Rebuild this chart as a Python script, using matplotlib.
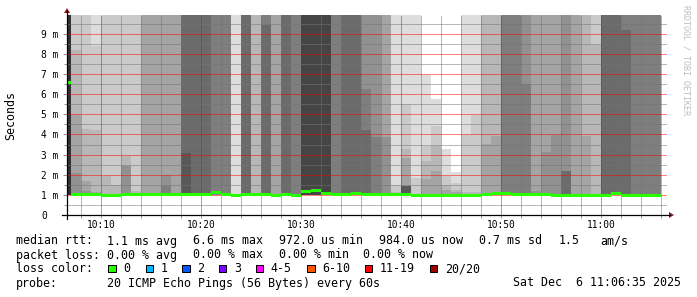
import numpy as np
import matplotlib
matplotlib.use("Agg")
import matplotlib.pyplot as plt
from matplotlib.lines import Line2D
from matplotlib.patches import Polygon, Rectangle
from matplotlib.ticker import MultipleLocator, FuncFormatter

W, H = 697, 297
MONO = "DejaVu Sans Mono"

# rtt values in ms, one step per minute starting 10:06
OFF = 15.0  # ping slower than the top of the graph
first_minute = 6

# the slow pings of each step (the other pings of the 20 sit at rtt_min)
slow_pings = [
    [OFF] * 10,
    [2.08, 4.95, 8.17, OFF, OFF],
    [1.17, 1.7, 4.25, OFF, OFF],
    [1.15, 4.2, 8.4, OFF],
    [1.92, OFF, OFF],
    [1.47, OFF, OFF],
    [2.45, 2.45, 2.95, OFF, OFF],
    [1.2, OFF, OFF],
    [OFF] * 4,
    [OFF] * 4,
    [1.45, 2.0, OFF, OFF, OFF, OFF],
    [OFF] * 4,
    [3.08] + [OFF] * 7,
    [OFF] * 7,
    [OFF] * 7,
    [OFF] * 6,
    [OFF] * 6,
    [OFF],
    [OFF] * 7,
    [OFF] * 3,
    [9.42] + [OFF] * 6,
    [OFF] * 4,
    [OFF] * 7,
    [OFF] * 6,
    [OFF] * 9,
    [OFF] * 9,
    [OFF] * 9,
    [OFF] * 6,
    [OFF] * 7,
    [OFF] * 7,
    [4.2, 6.25] + [OFF] * 5,
    [3.85] + [OFF] * 5,
    [3.87] + [OFF] * 4,
    [1.15, 1.5, OFF],
    [1.42, 1.42, 1.42, 1.42, 2.83, 3.28, 5.53, OFF],
    [1.83, OFF],
    [1.8, 2.7, 3.45, 6.95],
    [2.2, 3.45, 4.42, 5.75],
    [1.25, 1.5, 1.95, 3.3],
    [1.12, 1.25, 1.58, 2.12],
    [1.15, 3.95, OFF],
    [1.15, 4.95, OFF],
    [3.53, OFF, OFF, OFF],
    [3.9, OFF, OFF, OFF],
    [OFF] * 6,
    [OFF] * 6,
    [6.5] + [OFF] * 5,
    [1.2] + [OFF] * 4,
    [3.12] + [OFF] * 4,
    [3.95] + [OFF] * 4,
    [2.2, 2.2] + [OFF] * 5,
    [OFF] * 4,
    [3.92, OFF, OFF, OFF],
    [8.42, OFF, OFF],
    [OFF] * 7,
    [OFF] * 7,
    [9.2] + [OFF] * 6,
    [OFF] * 6,
    [OFF] * 6,
    [OFF] * 6,
]

rtt_median = [
    6.6, 1.03, 1.03, 1.03, 0.97, 0.97, 1.0, 1.0, 1.02, 1.03,
    1.03, 1.03, 1.03, 1.03, 1.03, 1.1, 1.0, 0.98, 1.02, 1.02,
    1.02, 0.97, 1.02, 0.97, 1.15, 1.2, 1.07, 1.04, 1.03, 1.07,
    1.03, 1.03, 1.03, 1.03, 1.03, 0.99, 0.98, 0.98, 0.98, 0.98,
    0.98, 0.98, 1.03, 1.05, 1.08, 1.03, 1.0, 1.0, 1.0, 0.98,
    0.98, 0.98, 0.99, 0.99, 0.99, 1.07, 0.99, 0.99, 0.99, 0.99,
]

rtt_min = [
    0.97, 0.98, 0.98, 0.98, 0.93, 0.93, 0.95, 0.95, 0.97, 0.98,
    0.98, 0.98, 0.98, 0.98, 0.98, 1.0, 0.95, 0.93, 0.97, 0.97,
    0.97, 0.93, 0.97, 0.93, 0.97, 0.97, 0.97, 0.98, 0.98, 1.0,
    0.98, 0.98, 0.98, 0.98, 0.98, 0.94, 0.93, 0.93, 0.93, 0.93,
    0.93, 0.93, 0.98, 0.99, 1.0, 0.98, 0.95, 0.95, 0.95, 0.93,
    0.93, 0.93, 0.94, 0.94, 0.94, 1.0, 0.94, 0.94, 0.94, 0.94,
]

legend_rows = [
    ("median rtt:", ["1.1 ms avg", "6.6 ms max", "972.0 us min", "984.0 us now", "0.7 ms sd", "1.5", "am/s"]),
    ("packet loss:", ["0.00 % avg", "0.00 % max", "0.00 % min", "0.00 % now"]),
]
loss_labels = ["0", "1", "2", "3", "4-5", "6-10", "11-19", "20/20"]
loss_colors = ["#26ff00", "#00b8ff", "#0059ff", "#7e00ff", "#ff00ff", "#ff5500", "#ff0000", "#a10000"]
probe_text = "20 ICMP Echo Pings (56 Bytes) every 60s"
stamp = "Sat Dec  6 11:06:35 2025"


def fx(x):
    return x / W


def fy(y):
    return 1 - y / H


fig = plt.figure(figsize=(W / 100, H / 100), dpi=100)
ax = fig.add_axes([fx(67), fy(215), 600 / W, 200 / H])

n = len(rtt_median)
edges = first_minute + np.arange(n + 1)

pings = np.array([sorted([lo] * (20 - len(s)) + s) for s, lo in zip(slow_pings, rtt_min)])

# smoke: pairs of sorted pings, inner pairs darker
half = 10
for ibot in range(1, half + 1):
    lo = pings[:, ibot - 1]
    hi = pings[:, 20 - ibot]
    level = int(190 / half * (half - ibot)) + 50
    ax.fill_between(edges, np.append(lo, lo[-1]), np.append(hi, hi[-1]), step="post",
                    color="#%02x%02x%02x" % (level, level, level), lw=0, zorder=1)

# median band
sw = 0.075
med = np.array(rtt_median)
ax.fill_between(edges, np.append(med - sw, med[-1] - sw), np.append(med + sw, med[-1] + sw),
                step="post", color=loss_colors[0], lw=0, zorder=3)

ax.set_xlim(6.583, 66.583)
ax.set_ylim(0, 9.93)
for s in ax.spines.values():
    s.set_visible(False)

ax.xaxis.set_major_locator(MultipleLocator(10))
ax.xaxis.set_minor_locator(MultipleLocator(2))
ax.yaxis.set_major_locator(MultipleLocator(1))
ax.yaxis.set_minor_locator(MultipleLocator(0.5))
ax.set_axisbelow(False)
ax.grid(which="major", color=(1, 0, 0, 0.22), lw=0.72, ls=(0, (1, 1)))
ax.grid(which="minor", color=(0.45, 0.45, 0.45, 0.25), lw=0.72, ls=(0, (1, 1)))

ax.xaxis.set_major_formatter(FuncFormatter(lambda m, p: "%d:%02d" % (10 + int(m) // 60, int(m) % 60)))
ax.yaxis.set_major_formatter(FuncFormatter(lambda v, p: "0" if v == 0 else "%d m" % v))
ax.tick_params(which="both", color="#999999", width=0.72, direction="out")
ax.tick_params(axis="x", which="major", length=2, pad=1.5, labelsize=6.85)
ax.tick_params(axis="x", which="minor", length=2)
ax.tick_params(axis="y", which="major", length=3, pad=15.5, labelsize=6.85)
ax.tick_params(axis="y", which="minor", length=2)
for lab in ax.get_xticklabels() + ax.get_yticklabels():
    lab.set_family(MONO)
for lab in ax.get_yticklabels():
    lab.set_ha("left")

# axis lines with arrow heads
fig.add_artist(Line2D([fx(67), fx(67)], [fy(219), fy(11)], color="black", lw=0.9))
fig.add_artist(Line2D([fx(62), fx(670)], [fy(215), fy(215)], color="black", lw=0.9))
fig.add_artist(Polygon([(fx(64), fy(13)), (fx(70), fy(13)), (fx(67), fy(8))], closed=True,
                       color="#8b1a1a", lw=0))
fig.add_artist(Polygon([(fx(669), fy(212)), (fx(669), fy(218)), (fx(674), fy(215))], closed=True,
                       color="#8b1a1a", lw=0))

fig.text(fx(11), fy(115), "Seconds", rotation=90, ha="center", va="center", family=MONO, fontsize=8.4)
fig.text(fx(686), fy(5), "RRDTOOL / TOBI OETIKER", rotation=270, ha="center", va="top",
         family=MONO, fontsize=6, color="#bdbdbd")

# legend
row_y = [241, 255, 268.5, 283]
token_x = [[107.3, 193.3, 279.3, 379.3, 479.3, 558.3, 600],
           [107.3, 193.3, 279.3, 363.3]]
for (head, parts), y, xs in zip(legend_rows, row_y, token_x):
    fig.text(fx(16), fy(y), head, family=MONO, fontsize=8.4, va="center")
    for t, x in zip(parts, xs):
        fig.text(fx(x), fy(y), t, family=MONO, fontsize=8.4, va="center")

fig.text(fx(16), fy(row_y[2]), "loss color:", family=MONO, fontsize=8.4, va="center")
box_x = [108.3, 145.7, 182.3, 219, 255.7, 307.3, 365, 430]
for lab, col, x in zip(loss_labels, loss_colors, box_x):
    fig.add_artist(Rectangle((fx(x), fy(row_y[2] + 3.7)), 7.4 / W, 7.4 / H, facecolor=col,
                             edgecolor="black", lw=0.72))
    fig.text(fx(x + 15), fy(row_y[2]), lab, family=MONO, fontsize=8.4, va="center")

fig.text(fx(16), fy(row_y[3]), "probe:", family=MONO, fontsize=8.4, va="center")
fig.text(fx(107.3), fy(row_y[3]), probe_text, family=MONO, fontsize=8.4, va="center")
fig.text(fx(513.3), fy(row_y[3]), stamp, family=MONO, fontsize=8.4, va="center")

fig.savefig("out.png", dpi=100, facecolor="white")
